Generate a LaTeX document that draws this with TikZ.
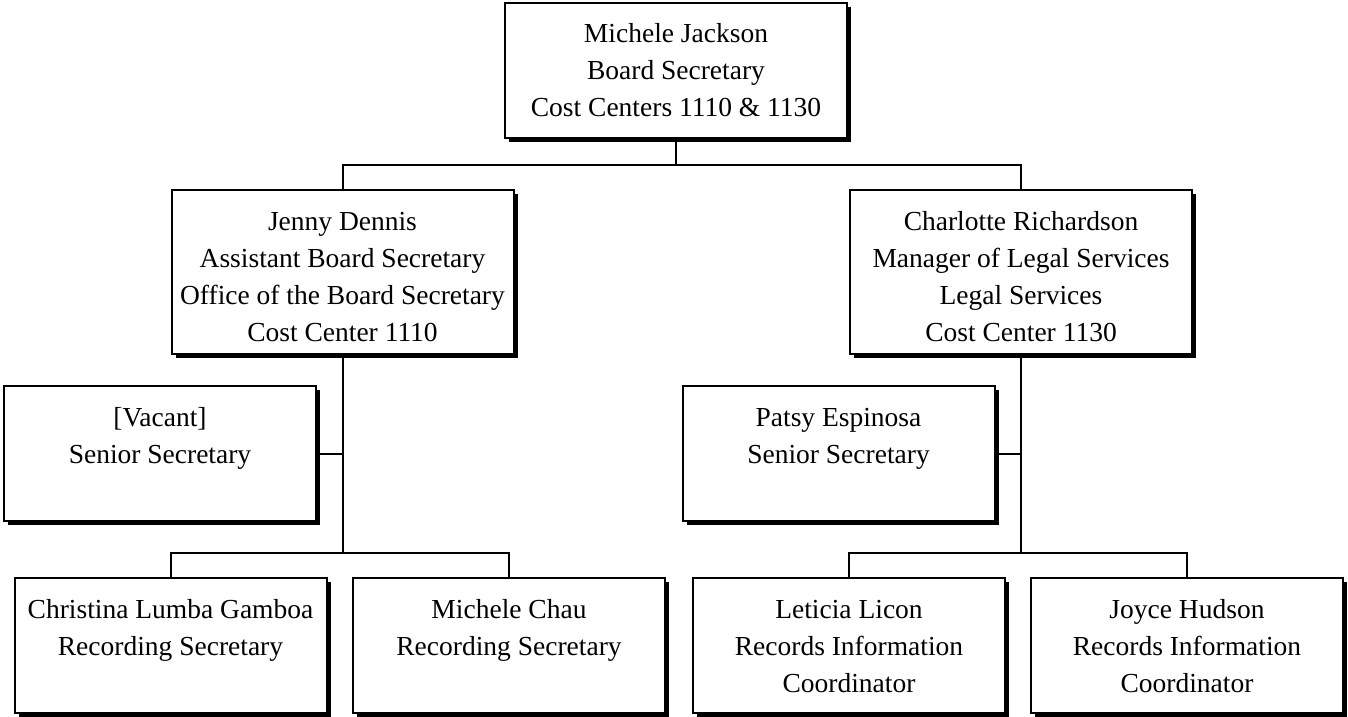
\documentclass[tikz,border=0pt]{standalone}
\usepackage{fontspec}
\setmainfont{Liberation Serif}
\usetikzlibrary{shadows}
\tikzset{%
  % Specifications for style of nodes:
            base/.style = {rectangle, draw=black, fill=white, line width=2pt,
                           align=center, inner sep=0pt,
                           font=\fontsize{27.5}{37}\selectfont, anchor=north,
                           drop shadow={shadow xshift=4pt, shadow yshift=-4pt,
                                        fill=black, opacity=1}},
           chief/.style = {base, minimum width=342pt, text height=114pt, text depth=21pt},
          deputy/.style = {base, minimum width=342pt, text height=151pt, text depth=13pt},
           staff/.style = {base, minimum width=312pt, text height=77pt, text depth=58pt},
      staffthree/.style = {base, minimum width=312pt, text height=114pt, text depth=21pt},
         orgline/.style = {line width=2pt},
}

\begin{document}
\begin{tikzpicture}[x=1pt, y=1pt]
  \useasboundingbox (0,0) rectangle (1348,716);
  % Specification of nodes (position, etc.)
  \node (boardSecretary)    [chief]  at (676,714)    {Michele Jackson\\Board Secretary\\Cost Centers 1110 \& 1130};

  \node (assistantSecretary) [deputy] at (342.5,527) {Jenny Dennis\\Assistant Board Secretary\\Office of the Board Secretary\\Cost Center 1110};
  \node (legalManager)       [deputy] at (1021,527)  {Charlotte Richardson\\Manager of Legal Services\\Legal Services\\Cost Center 1130};

  \node (vacantSenior)      [staff]  at (160,331)    {[Vacant]\\Senior Secretary};
  \node (legalSenior)       [staff]  at (838.5,331)  {Patsy Espinosa\\Senior Secretary};

  \node (recording_1)       [staff]  at (170.5,139)  {Christina Lumba Gamboa\\Recording Secretary};
  \node (recording_2)       [staff]  at (509,139)    {Michele Chau\\Recording Secretary};
  \node (records_1)    [staffthree]  at (849,139)    {Leticia Licon\\Records Information\\Coordinator};
  \node (records_2)    [staffthree]  at (1187,139)   {Joyce Hudson\\Records Information\\Coordinator};

  % Specification of lines between nodes specified above
  \draw[orgline] (boardSecretary.south) -- ++(0,-26) coordinate (topBus);
  \draw[orgline]              (topBus) -| (assistantSecretary.north);
  \draw[orgline]              (topBus) -| (legalManager.north);

  \draw[orgline] (assistantSecretary.south) -- ++(0,-198) coordinate (leftBus);
  \draw[orgline]        (vacantSenior.east) -- (vacantSenior.east -| leftBus);
  \draw[orgline]                  (leftBus) -| (recording_1.north);
  \draw[orgline]                  (leftBus) -| (recording_2.north);

  \draw[orgline] (legalManager.south) -- ++(0,-198) coordinate (rightBus);
  \draw[orgline]   (legalSenior.east) -- (legalSenior.east -| rightBus);
  \draw[orgline]           (rightBus) -| (records_1.north);
  \draw[orgline]           (rightBus) -| (records_2.north);
\end{tikzpicture}
\end{document}
